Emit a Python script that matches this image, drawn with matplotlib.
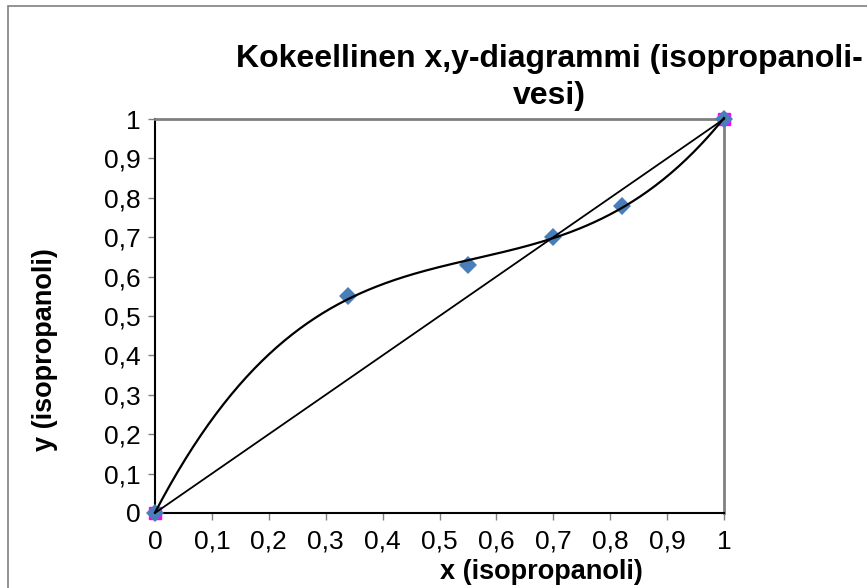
import numpy as np
import matplotlib
matplotlib.use("Agg")
import matplotlib.pyplot as plt
from matplotlib.patches import Rectangle
from matplotlib.ticker import FuncFormatter, MultipleLocator

plt.rcParams['font.family'] = ['Liberation Sans', 'DejaVu Sans']

# measured points (diamonds)
x_meas = [0, 0.34, 0.55, 0.70, 0.82, 1.0]
y_meas = [0, 0.55, 0.63, 0.70, 0.78, 1.0]
# diagonal y = x series (squares)
x_diag = [0, 1]
y_diag = [0, 1]

title = "Kokeellinen x,y-diagrammi (isopropanoli-\nvesi)"
xlabel = "x (isopropanoli)"
ylabel = "y (isopropanoli)"

W, H = 867, 588
fig = plt.figure(figsize=(W/100, H/100), dpi=100)
ax = fig.add_axes([155/W, 1-513/H, (724-155)/W, (513-119)/H])

# outer chart border
fig.patches.append(Rectangle((8/W, -0.05), 1.1, 1-6/H+0.05, transform=fig.transFigure,
                             fill=False, edgecolor="#808080", lw=1.2))

## trendline like the excel one (3rd order polynomial)
coef = np.polyfit(x_meas, y_meas, 3)
xs = np.linspace(0, 1, 300)
ys = np.polyval(coef, xs)

ax.plot(x_diag, y_diag, "s", color="#FF00FF", ms=8.5, zorder=3, clip_on=False)
ax.plot(x_meas, y_meas, "D", color="#4A7EBB", ms=9.5, zorder=4, clip_on=False, markeredgewidth=0)
ax.plot(xs, ys, color="black", lw=1.6, zorder=5, clip_on=False)
ax.plot(x_diag, y_diag, color="black", lw=1.3, zorder=5, clip_on=False)

ax.set_xlim(0, 1)
ax.set_ylim(0, 1)
ax.xaxis.set_major_locator(MultipleLocator(0.1))
ax.yaxis.set_major_locator(MultipleLocator(0.1))
fmt = FuncFormatter(lambda v, p: ("%g" % round(v, 1)).replace(".", ","))
ax.xaxis.set_major_formatter(fmt)
ax.yaxis.set_major_formatter(fmt)
ax.tick_params(axis="both", direction="out", length=5, width=1, color="#808080",
               labelsize=19)
ax.tick_params(axis="y", pad=5)
ax.tick_params(axis="x", pad=7)

for s in ["top", "right"]:
    ax.spines[s].set_color("#808080")
    ax.spines[s].set_linewidth(2)
for s in ["left", "bottom"]:
    ax.spines[s].set_color("black")
    ax.spines[s].set_linewidth(1.5)

# axis titles (placed like in the original excel chart, not centred on the axes)
fig.text(541/W, 1-572/H, xlabel, ha="center", va="center", fontsize=19.5, fontweight="bold")
fig.text(45/W, 1-350/H, ylabel, ha="center", va="center", rotation=90,
         fontsize=19.5, fontweight="bold")

fig.text(549/W, 1-44/H, title, ha="center", va="top", multialignment="center",
         fontsize=23, fontweight="bold", linespacing=1.3)

fig.savefig("out.png", dpi=100)
